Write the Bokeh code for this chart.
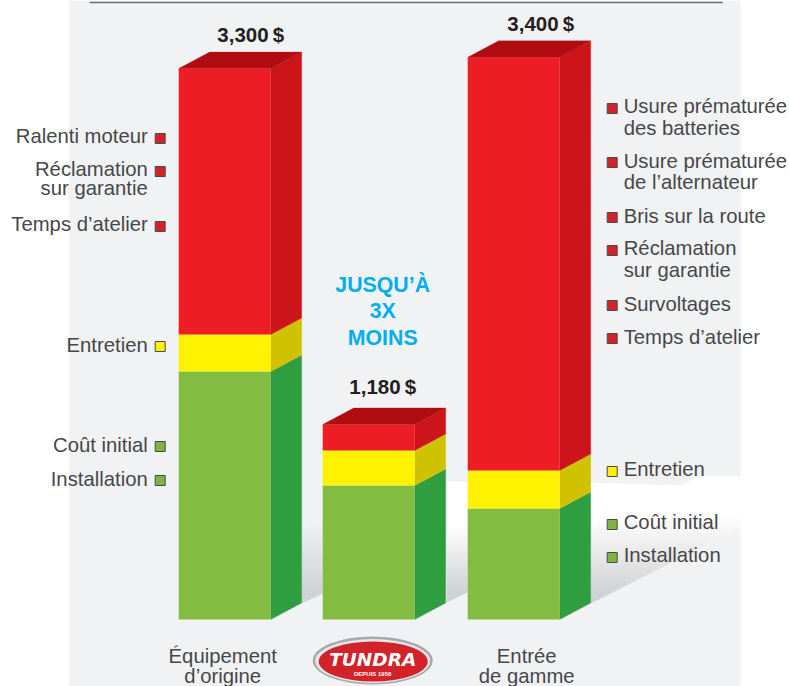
from bokeh.plotting import figure
from bokeh.models import Range1d
from bokeh.embed import file_html
from bokeh.resources import INLINE
from bokeh.core.properties import value

# ---------- data ----------
bar_names = ["Équipement d'origine", "Tundra", "Entrée de gamme"]
totals = ["3,300\u2009$", "1,180\u2009$", "3,400\u2009$"]
green_cost = [1500, 811, 672]
yellow_cost = [224, 212, 230]
red_cost = [1609, 157, 2499]

left_labels = ["Ralenti moteur", "Réclamation", "sur garantie", "Temps d’atelier",
               "Entretien", "Coût initial", "Installation"]
right_labels = ["Usure prématurée", "des batteries", "Usure prématurée", "de l’alternateur",
                "Bris sur la route", "Réclamation", "sur garantie", "Survoltages",
                "Temps d’atelier", "Entretien", "Coût initial", "Installation"]
bottom_labels_a = ["Équipement", "d’origine"]
bottom_labels_b = ["Entrée", "de gamme"]
callout = ["JUSQU’À", "3X", "MOINS"]

# ---------- layout ----------
W, H = 789, 686
DOLLAR_PER_PX = 6.05
BASE_PX = 619
bar_left = [179, 323, 468]
bar_w = 92
DX, DY = 31, 16.5

left_y = [136, 169, 188, 224, 345, 445, 479]
right_y = [106, 128, 161, 182, 216, 248, 270, 304, 337, 469, 522, 555]
left_mark_y = [138, 171, 226, 346, 446, 480]
left_mark_c = ["r", "r", "r", "y", "g", "g"]
right_mark_y = [108, 162, 217, 250, 305, 338, 471, 524, 557]
right_mark_c = ["r"] * 6 + ["y", "g", "g"]

FRONT = {"g": "#82bc41", "y": "#fff200", "r": "#ee1c25"}
SIDE = {"g": "#2f9e41", "y": "#cfc200", "r": "#cb151b"}
TOP = "#b00d13"
MARK = {"g": "#7fb440", "y": "#fff200", "r": "#d2232a"}
BG = "#f1f2f4"
INK = "#47474a"
FONT = value("Liberation Sans")

p = figure(width=W, height=H, output_backend="svg", toolbar_location=None,
           x_range=Range1d(0.8, W + 0.8),
           y_range=Range1d((BASE_PX - H) * DOLLAR_PER_PX, BASE_PX * DOLLAR_PER_PX),
           min_border=0)
p.extra_y_ranges = {"px": Range1d(H, 0)}
p.axis.visible = False
p.grid.visible = False
p.outline_line_color = None
p.background_fill_color = "white"
p.border_fill_color = "white"


def px_patch(xs, ys, color):
    p.patch(xs, ys, fill_color=color, line_color=None, y_range_name="px")


def clip_band(poly, y0, y1):
    def clip(pts, inside, cross):
        out = []
        for i, a in enumerate(pts):
            b = pts[(i + 1) % len(pts)]
            if inside(a):
                out.append(a)
            if inside(a) != inside(b):
                t = (cross - a[1]) / (b[1] - a[1])
                out.append((a[0] + t * (b[0] - a[0]), cross))
        return out
    pts = clip(poly, lambda q: q[1] >= y0, y0)
    if pts:
        pts = clip(pts, lambda q: q[1] <= y1, y1)
    return pts


def mix(c0, c1, t):
    t = max(0, min(1, t))
    a = [int(c0[i:i + 2], 16) for i in (1, 3, 5)]
    b = [int(c1[i:i + 2], 16) for i in (1, 3, 5)]
    return "#%02x%02x%02x" % tuple(round(u + (v - u) * t) for u, v in zip(a, b))


def shadow(poly, c0, c1, y0, y1):
    ymin = int(min(q[1] for q in poly))
    ymax = int(max(q[1] for q in poly))
    for y in range(ymin, ymax + 1, 2):
        pts = clip_band(poly, y, y + 3)
        if len(pts) >= 3:
            col = mix(c0, c1, (y + 1 - y0) / (y1 - y0))
            px_patch([q[0] for q in pts], [q[1] for q in pts], col)


# backdrop
px_patch([69, 741, 741, 69], [0, 0, H, H], BG)
px_patch([447, 591, 680, 697, 741, 741, 591, 468, 447],
         [481, 482, 485, 477, 479, 527, 603, 592, 602], "#ffffff")
SHADE = "#d1d2d4"
shadow([(302, 529), (323, 520), (323, 593), (302, 603)], "#eef0f1", SHADE, 525, 590)
shadow([(447, 530), (468, 522), (468, 592), (447, 602)], "#ffffff", SHADE, 525, 590)
shadow([(591, 528), (700, 476), (741, 476), (741, 527), (591, 603)], "#ffffff", SHADE, 515, 592)

# rule
p.line([90, 723], [2, 2], line_color="#6d6e71", line_width=1.5, y_range_name="px")

# bars
DY_D = DY * DOLLAR_PER_PX
for i, left in enumerate(bar_left):
    right = left + bar_w
    centre = left + bar_w / 2
    bottom = 0
    for key, vals in (("g", green_cost), ("y", yellow_cost), ("r", red_cost)):
        top = bottom + vals[i]
        p.patch([right, right + DX, right + DX, right],
                [bottom, bottom + DY_D, top + DY_D, top],
                fill_color=SIDE[key], line_color=SIDE[key], line_width=0.3)
        p.vbar(x=[centre], bottom=[bottom], top=[top], width=bar_w,
               fill_color=FRONT[key], line_color=None)
        bottom = top
    p.patch([left, left + DX, right + DX, right],
            [bottom, bottom + DY_D, bottom + DY_D, bottom],
            fill_color=TOP, line_color=TOP, line_width=0.3)


def texts(x, y, labels, align, size="20.3px", color=INK, style="normal", font=FONT):
    p.text(x=[x] * len(labels), y=[v - 1 for v in y], text=labels, y_range_name="px",
           text_align=align, text_baseline="middle", text_font=font,
           text_font_size=size, text_color=color, text_font_style=style)


def marks(x, ys, keys):
    p.rect(x=[x] * len(ys), y=ys, width=10, height=10, width_units="screen",
           height_units="screen", y_range_name="px",
           fill_color=[MARK[k] for k in keys], line_color="#4a4a4a", line_width=1)


texts(148, left_y, left_labels, "right")
texts(624, right_y, right_labels, "left")
marks(160.5, left_mark_y, left_mark_c)
marks(612.5, right_mark_y, right_mark_c)

# totals
total_x = [251, 383, 541]
total_y = [35, 387, 24]
for x, y, t in zip(total_x, total_y, totals):
    texts(x, [y], [t], "center", size="20.5px", color="#231f20", style="bold")

# callout
texts(383, [285, 311, 338], callout, "center", size="21.3px", color="#00aeef", style="bold")

# bottom labels
texts(223, [656, 676], bottom_labels_a, "center")
texts(527, [656, 676], bottom_labels_b, "center")

# logo
p.ellipse(x=[373], y=[660], width=120, height=48, fill_color="#a7a9ac", line_color=None, y_range_name="px")
p.ellipse(x=[373], y=[660.5], width=115, height=44, fill_color="#e6e7e8", line_color=None, y_range_name="px")
p.ellipse(x=[373.5], y=[661], width=109, height=40, fill_color="#d2232a", line_color=None, y_range_name="px")
texts(373, [660], ["TUNDRA"], "center", size="18.5px", color="#ffffff", style="bold italic", font=value("DejaVu Sans"))
texts(373, [674.5], ["DEPUIS 1958"], "center", size="6px", color="#ffffff", style="bold")

open("out.html", "w").write(file_html(p, INLINE))
